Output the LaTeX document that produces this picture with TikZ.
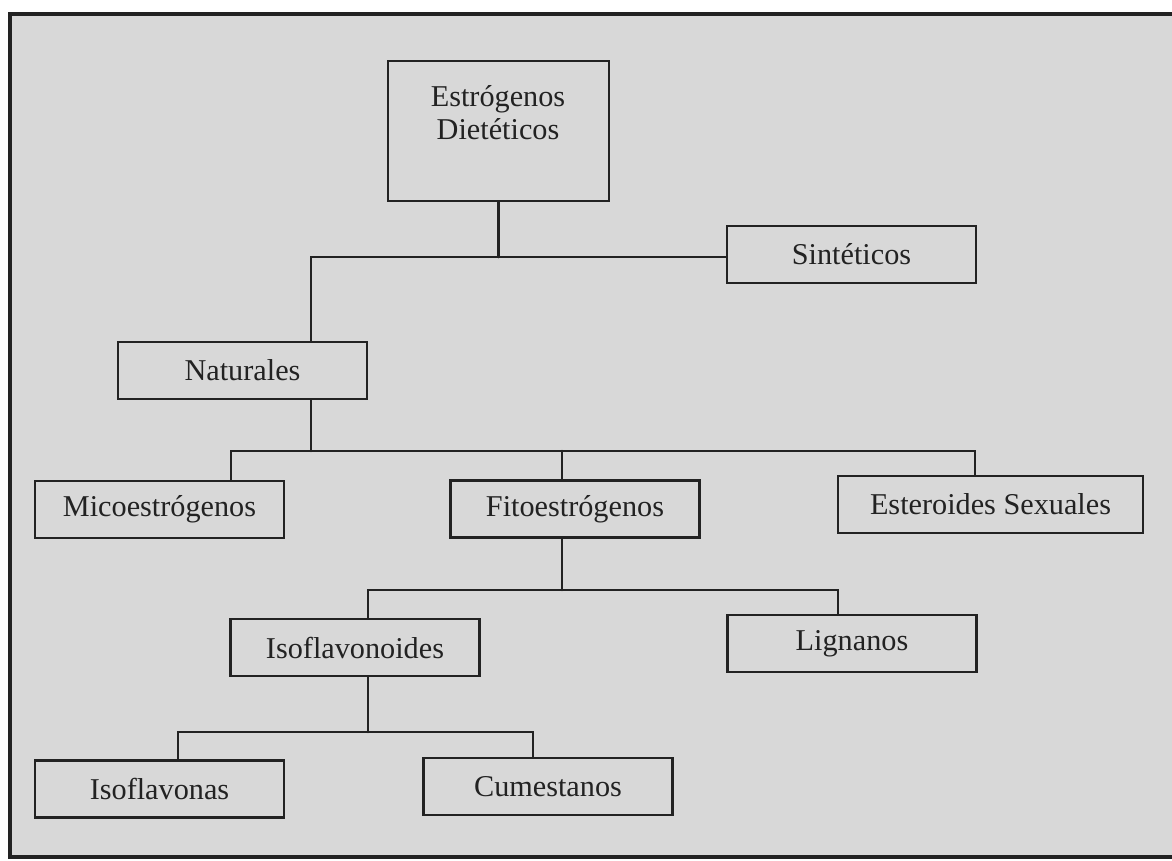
\documentclass[tikz,border=0pt]{standalone}
\usepackage{fontspec}
\setmainfont{Liberation Serif}
\definecolor{paper}{RGB}{216,216,216}
\definecolor{ink}{RGB}{34,34,34}
\tikzset{
	box/.style = {draw=ink, line width=1.8pt, inner sep=0pt, minimum width=6.225cm, minimum height=1.425cm, text=ink, font=\fontsize{21.5}{23.5}\selectfont},
	txt/.style = {inner sep=0pt, align=center, text=ink, font=\fontsize{21.5}{23.5}\selectfont},
	link/.style = {draw=ink, line width=1.8pt}
}
\begin{document}
\begin{tikzpicture}[x=0.025cm, y=-0.025cm, line cap = round]
%		\draw (0,0) grid (1172,861);
		\useasboundingbox (0,0) rectangle (1172,861);
		\fill[paper] (10,14) rectangle (1180,857);
		\draw[ink, line width=2.5pt] (1180,14) -- (10,14) -- (10,857) -- (1180,857);
		
		\node[box, minimum width=5.525cm, minimum height=3.5cm] (est) at (498.5,131) {};
		\node[txt] (esttxt) at (498,113) {Estrógenos\\Dietéticos};
		\node[box] (sin) at (851.5,254.5) {Sintéticos};
		\node[box] (nat) at (242.5,370.5) {Naturales};
		\node[box] (mic) at (159.5,509.5) {Micoestrógenos};
		\node[box] (fit) at (575,509) {Fitoestrógenos};
		\node[box, minimum width=7.625cm] (ester) at (990.5,504.5) {Esteroides Sexuales};
		\node[box] (isoid) at (355,647.5) {Isoflavonoides};
		\node[box] (lig) at (852,643.5) {Lignanos};
		\node[box] (isona) at (159.5,789) {Isoflavonas};
		\node[box] (cum) at (548,786.5) {Cumestanos};
		
		\coordinate (b1) at (311,257);
		\coordinate (b2) at (311,451);
		\coordinate (n1) at (231,451);
		\coordinate (n2) at (562,451);
		\coordinate (n3) at (975,451);
		\coordinate (f1) at (368,590);
		\coordinate (f2) at (838,590);
		\coordinate (i1) at (178,732);
		\coordinate (i2) at (533,732);
		
		\draw[link] (est.south) -- (est.south |- b1);
		\draw[link] (b1 -| sin.west) -- (b1) -- (b1 |- nat.north);
		\draw[link] (b2 |- nat.south) -- (b2);
		\draw[link] (n1 |- mic.north) -- (n1) -- (n3) -- (n3 |- ester.north);
		\draw[link] (n2) -- (n2 |- fit.north);
		\draw[link] (n2 |- fit.south) -- (n2 |- f1);
		\draw[link] (f1 |- isoid.north) -- (f1) -- (f2) -- (f2 |- lig.north);
		\draw[link] (f1 |- isoid.south) -- (f1 |- i1);
		\draw[link] (i1 |- isona.north) -- (i1) -- (i2) -- (i2 |- cum.north);
	\end{tikzpicture}
\end{document}
